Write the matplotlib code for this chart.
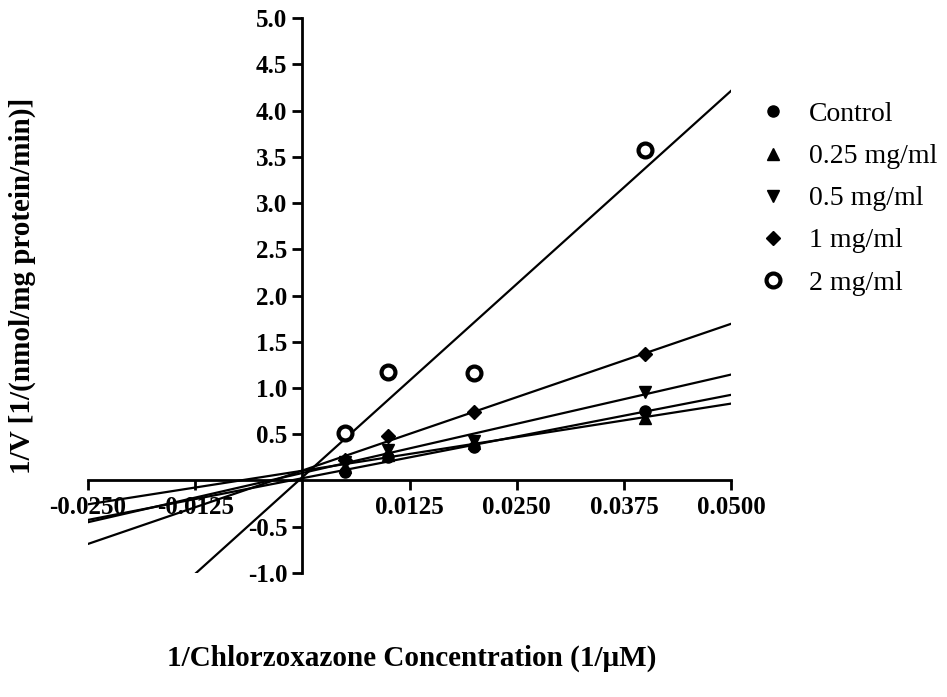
import numpy as np
import matplotlib
matplotlib.use("Agg")
import matplotlib.pyplot as plt

plt.rcParams['font.family'] = ['Liberation Serif', 'DejaVu Serif']

# 1/[S] values (1/uM)
inv_conc = [0.005, 0.01, 0.02, 0.04]

# 1/V values
control = [0.09, 0.25, 0.36, 0.75]
mg_025 = [0.15, 0.28, 0.40, 0.68]
mg_05 = [0.20, 0.33, 0.43, 0.96]
mg_1 = [0.22, 0.48, 0.74, 1.37]
mg_2 = [0.51, 1.17, 1.16, 3.57]

labels = ['Control', '0.25 mg/ml', '0.5 mg/ml', '1 mg/ml', '2 mg/ml']
series = [control, mg_025, mg_05, mg_1, mg_2]
markers = ['o', '^', 'v', 'D', 'o']

xticks = [-0.025, -0.0125, 0.0125, 0.025, 0.0375, 0.05]
xticklabels = ['-0.0250', '-0.0125', '0.0125', '0.0250', '0.0375', '0.0500']
yticks = [-1.0, -0.5, 0.5, 1.0, 1.5, 2.0, 2.5, 3.0, 3.5, 4.0, 4.5, 5.0]

fig = plt.figure(figsize=(9.47, 6.97), dpi=100)
ax = fig.add_axes([0.093, 0.178, 0.679, 0.796])

xfit = np.linspace(-0.025, 0.05, 200)
handles = []
for ys, lab, m in zip(series, labels, markers):
    k, b = np.polyfit(inv_conc, ys, 1)
    ax.plot(xfit, k * xfit + b, color='black', lw=1.6, clip_on=True)
    if lab == '2 mg/ml':
        h, = ax.plot(inv_conc, ys, linestyle='none', marker='o', markersize=10,
                     markerfacecolor='white', markeredgecolor='black',
                     markeredgewidth=3, label=lab)
    else:
        ms = 7 if m == 'D' else 8
        h, = ax.plot(inv_conc, ys, linestyle='none', marker=m, markersize=ms,
                     color='black', label=lab)
    handles.append(h)

ax.set_xlim(-0.025, 0.05)
ax.set_ylim(-1.0, 5.0)
ax.spines['left'].set_position(('data', 0))
ax.spines['bottom'].set_position(('data', 0))
ax.spines['right'].set_visible(False)
ax.spines['top'].set_visible(False)
for s in ['left', 'bottom']:
    ax.spines[s].set_linewidth(2)

ax.set_xticks(xticks)
ax.set_xticklabels(xticklabels)
ax.set_yticks(yticks)
ax.set_yticklabels(['%.1f' % v for v in yticks])
ax.tick_params(direction='out', length=7, width=2, labelsize=18, pad=4)
for t in ax.get_xticklabels() + ax.get_yticklabels():
    t.set_fontweight('bold')

fig.text(0.435, 0.055, '1/Chlorzoxazone Concentration (1/\u03bcM)',
         ha='center', va='center', fontsize=21, fontweight='bold')
fig.text(0.024, 0.59, '1/V [1/(nmol/mg protein/min)]', rotation=90,
         ha='center', va='center', fontsize=21, fontweight='bold')

fig.legend(handles=handles, loc='upper left', bbox_to_anchor=(0.79, 0.87),
           frameon=False, fontsize=20, handlelength=1.0, handletextpad=0.8,
           labelspacing=0.6, borderaxespad=0)

fig.savefig('out.png', dpi=100)
